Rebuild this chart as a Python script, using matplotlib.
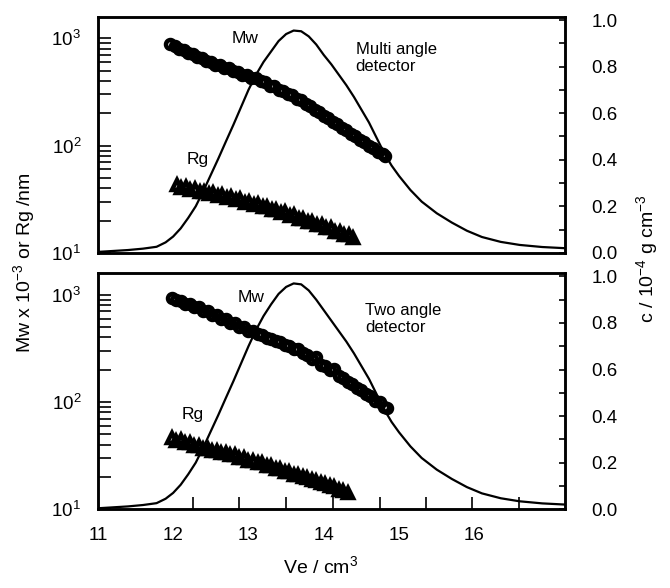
import matplotlib
matplotlib.use('Agg')
import matplotlib.pyplot as plt

plt.rcParams['font.family'] = ['Liberation Sans', 'DejaVu Sans']
plt.rcParams['mathtext.fontset'] = 'custom'
plt.rcParams['mathtext.rm'] = 'Liberation Sans'

# ---- concentration curves (right axis) ----
ve_c = [11.0, 11.4, 11.6, 11.78, 11.9, 12.0, 12.1, 12.2, 12.3, 12.4, 12.5, 12.6,
        12.7, 12.8, 12.9, 13.0, 13.1, 13.2, 13.3, 13.4, 13.5, 13.6, 13.7, 13.8,
        13.9, 14.0, 14.1, 14.2, 14.3, 14.4, 14.5, 14.6, 14.7, 14.8, 14.9, 15.0,
        15.15, 15.3, 15.5, 15.7, 15.9, 16.1, 16.35, 16.6, 16.9, 17.2]
c_multi = [0.004, 0.012, 0.018, 0.026, 0.045, 0.07, 0.105, 0.15, 0.20, 0.265, 0.335, 0.405,
           0.478, 0.55, 0.625, 0.70, 0.765, 0.82, 0.865, 0.91, 0.94, 0.955, 0.952, 0.93,
           0.895, 0.85, 0.81, 0.765, 0.72, 0.67, 0.615, 0.56, 0.495, 0.43, 0.375, 0.33,
           0.27, 0.22, 0.17, 0.13, 0.095, 0.068, 0.047, 0.034, 0.025, 0.02]
c_two = [0.004, 0.012, 0.018, 0.026, 0.045, 0.07, 0.105, 0.15, 0.20, 0.265, 0.335, 0.405,
         0.478, 0.55, 0.625, 0.70, 0.77, 0.83, 0.88, 0.925, 0.955, 0.97, 0.966, 0.94,
         0.90, 0.855, 0.81, 0.765, 0.72, 0.67, 0.615, 0.56, 0.495, 0.43, 0.375, 0.33,
         0.27, 0.22, 0.17, 0.13, 0.095, 0.068, 0.047, 0.034, 0.025, 0.02]

# ---- multi angle detector ----
ve_mw1 = [11.96, 12.02, 12.08, 12.14, 12.20, 12.26, 12.32, 12.38, 12.44, 12.50,
          12.56, 12.62, 12.68, 12.74, 12.80, 12.86, 12.92, 12.98, 13.04, 13.10,
          13.16, 13.22, 13.28, 13.34, 13.40, 13.46, 13.52, 13.58, 13.64, 13.70,
          13.76, 13.82, 13.88, 13.94, 14.00, 14.06, 14.12, 14.18, 14.24, 14.30,
          14.36, 14.42, 14.48, 14.54, 14.60, 14.66, 14.72, 14.78, 14.81]
mw1 = [879, 850, 798, 780, 730, 715, 670, 655, 615, 603,
       568, 562, 530, 524, 494, 488, 460, 456, 430, 426,
       400, 390, 362, 357, 330, 325, 301, 296, 273, 268,
       243, 236, 214, 207, 188, 182, 165, 160, 145, 140,
       127, 123, 112, 108, 99, 95, 87, 83, 80]
ve_rg1 = [12.05, 12.11, 12.17, 12.23, 12.29, 12.35, 12.41, 12.47, 12.53, 12.59,
          12.65, 12.71, 12.77, 12.83, 12.89, 12.95, 13.01, 13.07, 13.13, 13.19,
          13.25, 13.31, 13.37, 13.43, 13.49, 13.55, 13.61, 13.67, 13.73, 13.79,
          13.85, 13.91, 13.97, 14.03, 14.09, 14.15, 14.21, 14.27, 14.33, 14.39]
rg1 = [42.5, 40.0, 41.0, 38.2, 39.0, 36.8, 37.2, 35.3, 35.8, 33.8,
       34.6, 32.8, 33.2, 31.0, 31.6, 29.4, 30.1, 28.0, 28.4, 26.5,
       26.9, 24.9, 25.3, 23.5, 23.8, 22.0, 22.3, 20.8, 20.9, 19.4,
       19.5, 18.1, 18.2, 16.9, 17.0, 15.7, 15.8, 14.6, 14.6, 13.9]

# ---- two angle detector ----
ve_mw2 = [11.98, 12.04, 12.10, 12.16, 12.22, 12.28, 12.34, 12.40, 12.46, 12.52,
          12.58, 12.64, 12.70, 12.76, 12.82, 12.88, 12.94, 13.00, 13.06, 13.12,
          13.18, 13.24, 13.30, 13.36, 13.42, 13.48, 13.54, 13.60, 13.66, 13.72,
          13.78, 13.84, 13.90, 13.96, 14.02, 14.08, 14.14, 14.20, 14.26, 14.32,
          14.38, 14.44, 14.50, 14.56, 14.62, 14.68, 14.74, 14.80, 14.84]
mw2 = [933, 890, 878, 825, 818, 770, 762, 710, 700, 652,
       642, 598, 590, 550, 540, 504, 496, 462, 456, 427,
       423, 396, 390, 367, 362, 340, 334, 314, 310, 286,
       277, 254, 260, 223, 215, 197, 203, 173, 167, 152,
       147, 134, 130, 118, 114, 103, 100, 90, 88]
ve_rg2 = [11.98, 12.04, 12.10, 12.16, 12.22, 12.28, 12.34, 12.40, 12.46, 12.52,
          12.58, 12.64, 12.70, 12.76, 12.82, 12.88, 12.94, 13.00, 13.06, 13.12,
          13.18, 13.24, 13.30, 13.36, 13.42, 13.48, 13.54, 13.60, 13.66, 13.72,
          13.78, 13.84, 13.90, 13.96, 14.02, 14.08, 14.14, 14.20, 14.26, 14.32]
rg2 = [46.0, 43.0, 43.8, 41.2, 41.3, 38.5, 38.6, 36.4, 36.6, 35.0,
       35.1, 33.4, 33.6, 31.8, 31.7, 30.0, 30.0, 28.4, 28.4, 26.7,
       26.7, 25.2, 25.2, 23.7, 23.6, 22.3, 22.2, 21.0, 20.9, 19.8,
       19.6, 18.6, 18.4, 17.4, 17.2, 16.3, 16.1, 15.2, 14.8, 14.1]

xticks_lab = [11, 12, 13, 14, 15, 16]
xticks_marca = [12.26, 12.88, 13.50, 14.12, 14.74, 15.36, 15.97, 16.59]

fig = plt.figure(figsize=(6.7, 5.88), dpi=100)
ax1 = fig.add_axes([0.146, 0.570, 0.697, 0.401])
ax2 = fig.add_axes([0.146, 0.134, 0.697, 0.401])

paneles = [
    (ax1, ve_mw1, mw1, ve_rg1, rg1, c_multi, 'Multi angle\ndetector', (0.315, 0.907), (0.214, 0.394), (0.552, 0.826)),
    (ax2, ve_mw2, mw2, ve_rg2, rg2, c_two, 'Two angle\ndetector', (0.328, 0.898), (0.204, 0.403), (0.572, 0.807)),
]

for ax, vm, mw, vr, rg, cc, texto, pos_mw, pos_rg, pos_txt in paneles:
    ax.set_yscale('log')
    ax.set_xlim(11, 17.2)
    ax.set_ylim(10, 1580)
    ax.plot(vm, mw, 'o', ms=6.5, mfc='none', mec='black', mew=3.2)
    ax.plot(vr, rg, '^', ms=7, mfc='none', mec='black', mew=3.2)
    ax.set_yticks([10, 100, 1000])
    ax.set_yticklabels([r'$\mathregular{10^1}$', r'$\mathregular{10^2}$', r'$\mathregular{10^3}$'])
    ax.tick_params(axis='y', which='both', direction='in', length=9.5, width=1.2,
                   labelsize=13.5, pad=12, right=False)
    for s in ax.spines.values():
        s.set_linewidth(1.8)

    axr = ax.twinx()
    axr.plot(ve_c, cc, color='black', lw=1.6)
    axr.set_ylim(0, 1.013)
    axr.set_yticks([0.0, 0.2, 0.4, 0.6, 0.8, 1.0])
    axr.set_yticks([0.1, 0.3, 0.5, 0.7, 0.9], minor=True)
    axr.set_yticklabels(['0.0', '0.2', '0.4', '0.6', '0.8', '1.0'])
    axr.tick_params(axis='y', which='both', direction='in', length=4, width=1.2,
                    labelsize=13.5, pad=19)
    for s in axr.spines.values():
        s.set_linewidth(1.8)

    ax.text(pos_mw[0], pos_mw[1], 'Mw', transform=ax.transAxes, fontsize=12.5,
            ha='center', va='center')
    ax.text(pos_rg[0], pos_rg[1], 'Rg', transform=ax.transAxes, fontsize=12.5,
            ha='center', va='center')
    ax.text(pos_txt[0], pos_txt[1], texto, transform=ax.transAxes, fontsize=12,
            ha='left', va='center', linespacing=1.2)

ax1.tick_params(axis='x', which='both', bottom=False, top=False, labelbottom=False)
ax2.set_xticks(xticks_lab)
ax2.set_xticklabels([str(v) for v in xticks_lab])
ax2.set_xticks(xticks_marca, minor=True)
ax2.tick_params(axis='x', which='major', length=0, labelsize=13.5, pad=13)
ax2.tick_params(axis='x', which='minor', direction='in', length=8.5, width=1.2, top=False)

fig.text(0.037, 0.554, r'Mw x 10$^{\mathregular{-3}}$ or Rg /nm', rotation=90,
         ha='center', va='center', fontsize=14)
fig.text(0.967, 0.561, r'c / 10$^{\mathregular{-4}}$ g cm$^{\mathregular{-3}}$', rotation=90,
         ha='center', va='center', fontsize=14)
fig.text(0.478, 0.036, r'Ve / cm$^{\mathregular{3}}$', ha='center', va='center', fontsize=14)

plt.savefig('out.png', dpi=100)
